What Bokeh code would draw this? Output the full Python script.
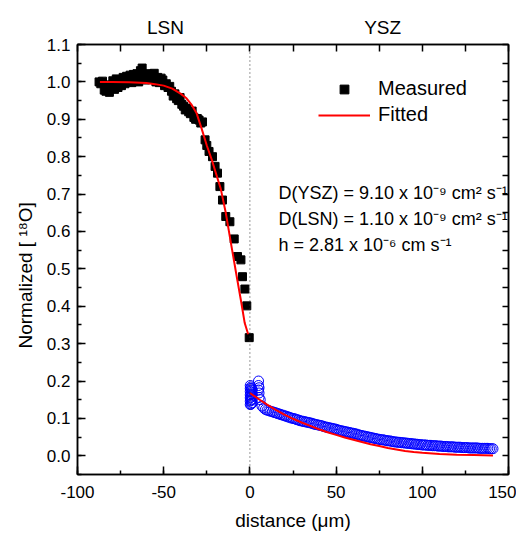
from bokeh.plotting import figure
from bokeh.models import (LinearAxis, SingleIntervalTicker, FixedTicker, Span, Label,
                          Legend, LegendItem, Range1d, NumeralTickFormatter,
                          CustomJSTickFormatter)
from bokeh.embed import file_html
from bokeh.resources import INLINE

# ---------------- data ----------------
# LSN side, measured (black squares)
lsn_x = [-87.5, -86.5, -85.5, -84.5, -83.5, -82.5, -81.5, -80.5, -79.5, -78.5,
         -77.5, -76.5, -75.5, -74.5, -73.5, -72.5, -71.5, -70.5, -69.5, -68.5,
         -67.5, -66.5, -65.5, -64.5, -63.5, -62.5, -61.5, -60.5, -59.5, -58.5,
         -57.5, -56.5, -55.5, -54.5, -53.5, -52.5, -51.5, -50.5, -49.5, -48.5,
         -47.5, -46.5, -45.5, -44.5, -43.5, -42.5, -41.5, -40.5, -39.5, -38.5,
         -37.5, -36.5, -35.5, -34.5, -33.5, -32.5, -31.5, -30.5, -29.5, -28.5,
         -27.5, -26.0, -25.0, -23.7, -21.7, -20.2, -18.8, -17.4, -15.9, -14.0,
         -11.6, -9.1, -7.2, -5.2, -4.3, -2.9, -1.8, -0.4]
lsn_y = [1.000, 0.995, 1.002, 0.978, 0.975, 0.992, 0.972, 0.985, 1.003, 0.980,
         1.008, 0.985, 1.005, 0.990, 1.012, 0.995, 1.015, 1.000, 1.018, 0.998,
         1.020, 1.005, 1.022, 1.000, 1.030, 1.037, 1.015, 1.005, 1.022, 1.018,
         1.008, 1.020, 1.023, 1.000, 1.012, 0.998, 1.010, 1.005, 0.990, 0.995,
         0.985, 0.988, 0.975, 0.962, 0.968, 0.955, 0.950, 0.958, 0.940, 0.935,
         0.925, 0.930, 0.920, 0.915, 0.922, 0.905, 0.900, 0.902, 0.898, 0.890,
         0.893, 0.845, 0.830, 0.814, 0.800, 0.774, 0.756, 0.720, 0.684, 0.640,
         0.626, 0.580, 0.533, 0.524, 0.479, 0.446, 0.401, 0.316]

# YSZ side, measured (blue open circles)
ysz_x = [0.2, 0.2, 0.2, 0.2, 0.2, 0.2, 0.2, 0.6, 0.6, 0.6, 0.6, 0.6, 0.6,
         1.0, 1.0, 1.0, 1.0, 1.0, 1.4, 1.4, 1.4, 1.4,
         5.0, 5.0, 5.0, 5.3, 5.3, 5.3, 6.0,
         7, 8, 9, 10, 11, 12, 13, 14, 15, 16, 17, 18, 19, 20, 21, 22, 23, 24,
         25, 26, 27, 28, 29, 30, 31, 32, 33, 34, 35, 36, 37, 38, 39, 40, 41,
         42, 43, 44, 45, 46, 47, 48, 49, 50, 51, 52, 53, 54, 55, 56, 57, 58,
         59, 60, 61, 62, 63, 64, 65, 66, 67, 68, 69, 70, 71, 72, 73, 74, 75,
         76, 77, 78, 79, 80, 81, 82, 83, 84, 85, 86, 87, 88, 89, 90, 91, 92,
         93, 94, 95, 96, 97, 98, 99, 100, 101, 102, 103, 104, 105, 106, 107,
         108, 109, 110, 111, 112, 113, 114, 115, 116, 117, 118, 119, 120, 121,
         122, 123, 124, 125, 126, 127, 128, 129, 130, 131, 132, 133, 134, 135,
         136, 137, 138, 139, 140, 141]
ysz_y = [0.188, 0.180, 0.172, 0.163, 0.155, 0.146, 0.137, 0.184, 0.176, 0.166,
         0.157, 0.148, 0.138, 0.180, 0.170, 0.160, 0.150, 0.140, 0.176, 0.165,
         0.152, 0.142,
         0.200, 0.188, 0.176, 0.182, 0.168, 0.156, 0.150,
         0.133, 0.128, 0.124, 0.122, 0.121, 0.119, 0.118, 0.116, 0.115, 0.113,
         0.112, 0.110, 0.109, 0.107, 0.106, 0.104, 0.103, 0.101, 0.100, 0.099,
         0.097, 0.096, 0.094, 0.093, 0.092, 0.091, 0.090, 0.089, 0.088, 0.087,
         0.085, 0.084, 0.083, 0.082, 0.081, 0.080, 0.078, 0.077, 0.076, 0.075,
         0.074, 0.073, 0.072, 0.071, 0.069, 0.068, 0.067, 0.066, 0.065, 0.064,
         0.063, 0.062, 0.061, 0.060, 0.059, 0.058, 0.056, 0.055, 0.054, 0.053,
         0.052, 0.051, 0.050, 0.049, 0.048, 0.047, 0.046, 0.045, 0.044, 0.043,
         0.043, 0.042, 0.041, 0.040, 0.040, 0.039, 0.038, 0.037, 0.037, 0.036,
         0.036, 0.035, 0.035, 0.034, 0.034, 0.033, 0.033, 0.032, 0.032, 0.031,
         0.031, 0.030, 0.030, 0.029, 0.029, 0.029, 0.028, 0.028, 0.028, 0.027,
         0.027, 0.027, 0.026, 0.026, 0.026, 0.025, 0.025, 0.025, 0.024, 0.024,
         0.024, 0.024, 0.023, 0.023, 0.023, 0.023, 0.022, 0.022, 0.022, 0.022,
         0.021, 0.021, 0.021, 0.021, 0.021, 0.021, 0.020, 0.020, 0.020, 0.020,
         0.020, 0.020, 0.019, 0.019, 0.019]

# fitted curves (red)
fit_lsn_x = [-87, -80, -70, -60, -55, -50, -45, -40, -37, -34, -31, -28, -25,
             -22, -19, -17, -14, -11, -8, -5, -3, -1]
fit_lsn_y = [1.000, 1.000, 0.999, 0.997, 0.994, 0.990, 0.982, 0.968, 0.957,
             0.940, 0.917, 0.875, 0.830, 0.790, 0.745, 0.716, 0.650, 0.569,
             0.489, 0.410, 0.355, 0.325]
fit_ysz_x = [0, 5, 10, 15, 20, 25, 30, 35, 40, 45, 50, 55, 60, 65, 70, 75, 80,
             85, 90, 95, 100, 110, 120, 130, 141]
fit_ysz_y = [0.168, 0.152, 0.137, 0.123, 0.110, 0.099, 0.089, 0.080, 0.071,
             0.063, 0.056, 0.049, 0.043, 0.037, 0.031, 0.026, 0.021, 0.017,
             0.013, 0.010, 0.008, 0.005, 0.003, 0.002, 0.001]

region_labels = ["LSN", "YSZ"]
region_x = [-49, 77]
notes = ["D(YSZ) = 9.10 x 10\u207b\u2079 cm\u00b2 s\u207b\u00b9",
         "D(LSN) = 1.10 x 10\u207b\u2079 cm\u00b2 s\u207b\u00b9",
         "h = 2.81 x 10\u207b\u2076 cm s\u207b\u00b9"]
notes_y = [0.703, 0.632, 0.563]

FONT = "Liberation Sans"

p = figure(frame_width=431, frame_height=430,
           x_range=Range1d(-100, 150), y_range=Range1d(-0.05, 1.1),
           output_backend="svg", toolbar_location=None,
           min_border_left=77, min_border_right=8, min_border_top=44,
           min_border_bottom=56)
p.grid.visible = False
p.outline_line_color = "black"
p.outline_line_width = 1.5
p.background_fill_color = "white"
p.border_fill_color = "white"


def style_axis(ax):
    ax.axis_line_width = 1.5
    ax.axis_line_color = "black"
    ax.major_tick_in = 8
    ax.major_tick_out = 0
    ax.minor_tick_in = 4
    ax.minor_tick_out = 0
    ax.major_tick_line_width = 1.5
    ax.minor_tick_line_width = 1.5
    ax.major_tick_line_color = "black"
    ax.minor_tick_line_color = "black"
    ax.major_label_text_font = FONT
    ax.major_label_text_font_size = "17px"
    ax.major_label_text_color = "black"
    ax.axis_label_text_font = FONT
    ax.axis_label_text_font_size = "19px"
    ax.axis_label_text_font_style = "normal"
    ax.axis_label_text_color = "black"


xb = p.xaxis[0]
xb.ticker = SingleIntervalTicker(interval=50, num_minor_ticks=2)
xb.formatter = NumeralTickFormatter(format="0")
style_axis(xb)
xb.major_label_standoff = 11
xb.axis_label = "distance (\u03bcm)"
xb.axis_label_standoff = 9

yl = p.yaxis[0]
yl.ticker = SingleIntervalTicker(interval=0.1, num_minor_ticks=2)
yl.formatter = NumeralTickFormatter(format="0.0")
style_axis(yl)
yl.major_label_standoff = 7
yl.axis_label = "Normalized [ \u00b9\u2078O]" + "\u00a0" * 6
yl.axis_label_standoff = 8

# mirrored top axis: region names as labels, ticks every 25
xt = LinearAxis(ticker=FixedTicker(ticks=region_x,
                                   minor_ticks=list(range(-100, 151, 25))),
                formatter=CustomJSTickFormatter(args=dict(names=region_labels,
                                                          pos=region_x),
                                                code="return names[pos.indexOf(tick)] || '';"))
style_axis(xt)
xt.major_tick_in = 0
xt.minor_tick_in = 7
xt.major_label_text_font_size = "19px"
xt.major_label_standoff = 7
p.add_layout(xt, "above")

# mirrored right axis: ticks only
yr = LinearAxis(ticker=FixedTicker(ticks=[],
                                   minor_ticks=[round(-0.05 + 0.05 * i, 2) for i in range(24)]))
style_axis(yr)
yr.minor_tick_in = 6
p.add_layout(yr, "right")

p.add_layout(Span(location=0, dimension="height", line_color="#333333",
                  line_width=1, line_dash="1 3"))

sq = p.scatter(lsn_x, lsn_y, marker="square", size=8, color="black")
p.scatter(ysz_x, ysz_y, marker="circle", size=10, line_color="#0000ff",
          fill_alpha=0, line_width=1)
fit1 = p.line(fit_lsn_x, fit_lsn_y, line_color="#ff0000", line_width=2)
p.line(fit_ysz_x, fit_ysz_y, line_color="#ff0000", line_width=2)

legend = Legend(items=[LegendItem(label="Measured", renderers=[sq]),
                       LegendItem(label="Fitted", renderers=[fit1])],
                location=(241, 348), glyph_width=52, glyph_height=22,
                label_standoff=8, spacing=3, padding=0, margin=0,
                border_line_color=None, background_fill_alpha=0,
                label_text_font=FONT, label_text_font_size="20px",
                label_text_color="black", label_text_baseline="middle")
p.add_layout(legend)

for t, ny in zip(notes, notes_y):
    p.add_layout(Label(x=16.6, y=ny, text=t, text_font=FONT,
                       text_font_size="18px", text_color="black",
                       text_baseline="alphabetic", text_align="left"))

open("out.html", "w").write(file_html(p, INLINE))
